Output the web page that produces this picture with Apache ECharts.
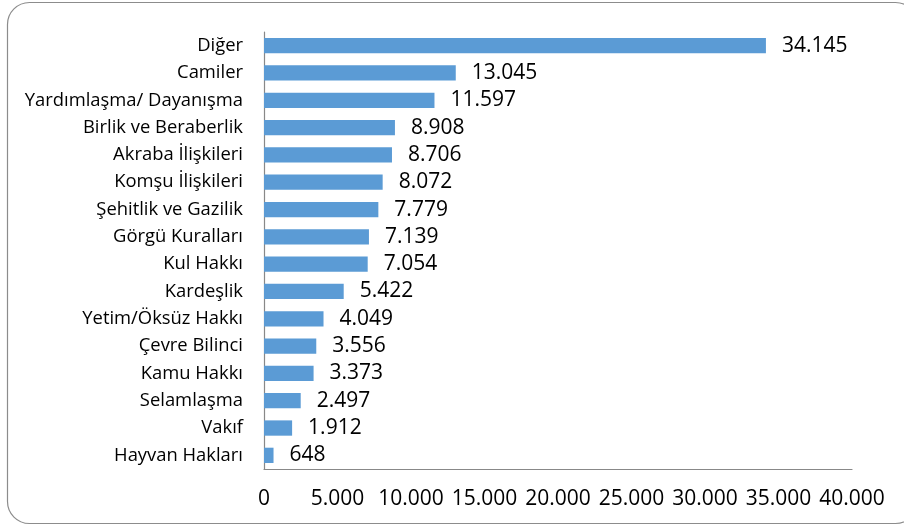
<!DOCTYPE html>
<html>
<head>
<meta charset="utf-8">
<script src="https://cdn.jsdelivr.net/npm/echarts@6/dist/echarts.min.js"></script>
<style>
  html, body { margin: 0; padding: 0; background: #fff; }
  #chart { width: 904px; height: 528px; }
</style>
</head>
<body>
<div id="chart"></div>
<script>
// categories listed bottom to top (category axis starts at the bottom)
const categories = [
  'Hayvan Hakları', 'Vakıf', 'Selamlaşma', 'Kamu Hakkı', 'Çevre Bilinci',
  'Yetim/Öksüz Hakkı', 'Kardeşlik', 'Kul Hakkı', 'Görgü Kuralları',
  'Şehitlik ve Gazilik', 'Komşu İlişkileri', 'Akraba İlişkileri',
  'Birlik ve Beraberlik', 'Yardımlaşma/ Dayanışma', 'Camiler', 'Diğer'
]
const values = [648, 1912, 2497, 3373, 3556, 4049, 5422, 7054, 7139, 7779, 8072, 8706, 8908, 11597, 13045, 34145]

const axisMin = 0
const axisMax = 40000
const axisStep = 5000

// binlik ayırıcı nokta
function fmt (v) {
  return String(v).replace(/\B(?=(\d{3})+(?!\d))/g, '.')
}

const chart = echarts.init(document.getElementById('chart'))
const textFont = '"Open Sans", sans-serif'

chart.setOption({
  animation: false,
  grid: { left: 264, top: 32, right: 52, bottom: 59, containLabel: false },
  graphic: [{
    type: 'rect',
    shape: { x: 7.5, y: 2.5, width: 910, height: 521, r: 22 },
    style: { fill: 'none', stroke: '#8c8c8c', lineWidth: 1.2 },
    silent: true
  }],
  xAxis: {
    type: 'value',
    min: axisMin,
    max: axisMax,
    interval: axisStep,
    axisLine: { show: true, lineStyle: { color: '#888', width: 1.2 } },
    axisTick: { show: false },
    splitLine: { show: false },
    axisLabel: {
      color: '#000',
      fontSize: 21,
      fontFamily: textFont,
      margin: 20,
      formatter: v => fmt(v)
    }
  },
  yAxis: {
    type: 'category',
    data: categories,
    axisLine: { show: true, lineStyle: { color: '#888', width: 1.2 } },
    axisTick: { show: false },
    axisLabel: {
      color: '#000',
      fontSize: 18.4,
      fontFamily: textFont,
      margin: 21
    }
  },
  series: [{
    type: 'bar',
    data: values,
    barWidth: '56%',
    itemStyle: { color: '#5b9bd5' },
    label: {
      show: true,
      position: 'right',
      distance: 16,
      color: '#000',
      fontSize: 21,
      fontFamily: textFont,
      formatter: p => fmt(p.value)
    }
  }]
})
</script>
</body>
</html>
